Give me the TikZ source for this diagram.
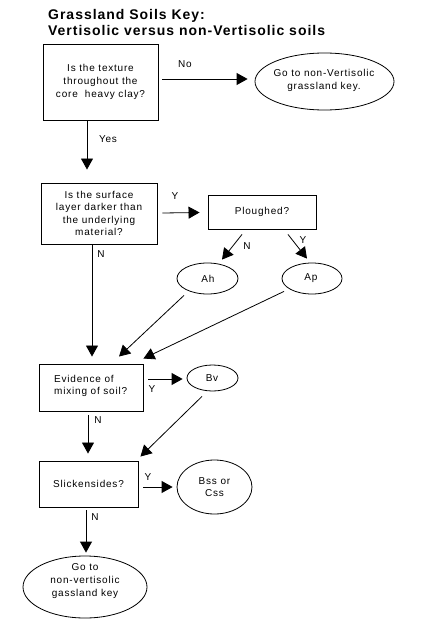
\documentclass[tikz,border=0pt]{standalone}
\usepackage{fontspec}
\setmainfont{Liberation Sans}
\newfontfamily\lblfont{Liberation Sans}[LetterSpace=8]
\newfontfamily\ttlfont{Liberation Sans}[LetterSpace=7]
\usetikzlibrary{arrows.meta,shapes.geometric}
\begin{document}
\begin{tikzpicture}[x=1pt,y=-1pt,
  txt/.style={font={\lblfont\fontsize{10}{12.6}\selectfont},align=center,inner sep=0pt},
  lbl/.style={font={\lblfont\fontsize{10}{12}\selectfont},inner sep=0pt},
  ttl/.style={font={\ttlfont\bfseries\fontsize{14}{16}\selectfont},inner sep=0pt,anchor=base west},
  qbox/.style={draw,line width=0.9pt,rectangle,inner sep=0pt,font={\lblfont\fontsize{10}{12.6}\selectfont},align=center},
  oval/.style={draw,line width=0.8pt,ellipse,inner sep=0pt},
  arr/.style={line width=0.8pt,-{Triangle[length=11pt,width=12pt]}}]
\useasboundingbox (0,0) rectangle (426,639);

\node[ttl] (t1) at (48,19.5) {Grassland Soils Key:};
\node[ttl] (t2) at (48,36) {Vertisolic versus non-Vertisolic soils};

% boxes
\node[qbox,minimum width=115,minimum height=76] (b1) at (100.5,82) {Is the texture\\throughout the\\core\ \ heavy clay?};
\node[qbox,minimum width=116,minimum height=61] (b2) at (99,213.5) {Is the surface\\layer darker than\\the underlying\\material?};
\node[qbox,minimum width=108,minimum height=34] (pl) at (262,212) {Ploughed?};
\node[qbox,minimum width=104,minimum height=47] (b3) at (91,387.5) {};
\node[txt,align=left,anchor=west] (b3t) at (54,386) {Evidence of\\mixing of soil?};
\node[qbox,minimum width=99,minimum height=46] (b4) at (88.5,484) {Slickensides?};

% ovals
\node[oval,minimum width=139,minimum height=57] (e1) at (324.5,81.5) {};
\node[txt] (e1t) at (324,80.5) {Go to non-Vertisolic\\grassland key.};
\node[oval,minimum width=61,minimum height=31] (ah) at (207.5,278.5) {};
\node[txt] (aht) at (208,278.5) {Ah};
\node[oval,minimum width=60,minimum height=31] (ap) at (312,278.5) {};
\node[txt] (apt) at (311,278.5) {Ap};
\node[oval,minimum width=51,minimum height=26] (bv) at (212.5,378) {};
\node[txt] (bvt) at (212,378) {Bv};
\node[oval,minimum width=75,minimum height=54] (bss) at (214.5,487) {};
\node[txt] (bsst) at (214.5,487) {Bss or\\Css};
\node[oval,minimum width=124,minimum height=62] (fin) at (85,587) {};
\node[txt] (fint) at (85,581) {Go to\\non-vertisolic\\gassland key};

% connectors
\draw[arr] ([shift={(4,-3)}]b1.east) -- ([shift={(-7,-2.5)}]e1.west);
\draw[arr] ([shift={(-13.5,0)}]b1.south) -- ([shift={(-12,-13)}]b2.north);
\draw[arr] ([shift={(5,-0.5)}]b2.east) -- ([shift={(-8,0.5)}]pl.west);
\draw[arr] ([shift={(-20,5)}]pl.south) -- ([shift={(14.5,-3)}]ah.north);
\draw[arr] ([shift={(26,5)}]pl.south) -- ([shift={(-5,-4)}]ap.north);
\draw[arr] ([shift={(-7,0)}]b2.south) -- ([shift={(1,-7)}]b3.north);
\draw[arr] ([shift={(-23.5,1)}]ah.south) -- ([shift={(28,-7)}]b3.north);
\draw[arr] ([shift={(-28,-3)}]ap.south) -- ([shift={(0,-5)}]b3.north east);
\draw[arr] ([shift={(5,-8.5)}]b3.east) -- ([shift={(-4,1)}]bv.west);
\draw[arr] ([shift={(-3,4)}]b3.south) -- ([shift={(-0.5,-7)}]b4.north);
\draw[arr] ([shift={(-10.5,5)}]bv.south) -- ([shift={(2,-4)}]b4.north east);
\draw[arr] ([shift={(5,3)}]b4.east) -- ([shift={(-4,0)}]bss.west);
\draw[arr] ([shift={(-2.5,3)}]b4.south) -- ([shift={(1,-3)}]fin.north);

% labels
\node[lbl] (lno) at (185,64) {No};
\node[lbl] (lyes) at (108,139) {Yes};
\node[lbl] (ly1) at (175,196) {Y};
\node[lbl] (ln1) at (247,246) {N};
\node[lbl] (ly2) at (303,240) {Y};
\node[lbl] (ln2) at (101,254) {N};
\node[lbl] (ly3) at (152,389) {Y};
\node[lbl] (ln3) at (98,420) {N};
\node[lbl] (ly4) at (148,477) {Y};
\node[lbl] (ln4) at (95,517) {N};
\end{tikzpicture}
\end{document}
